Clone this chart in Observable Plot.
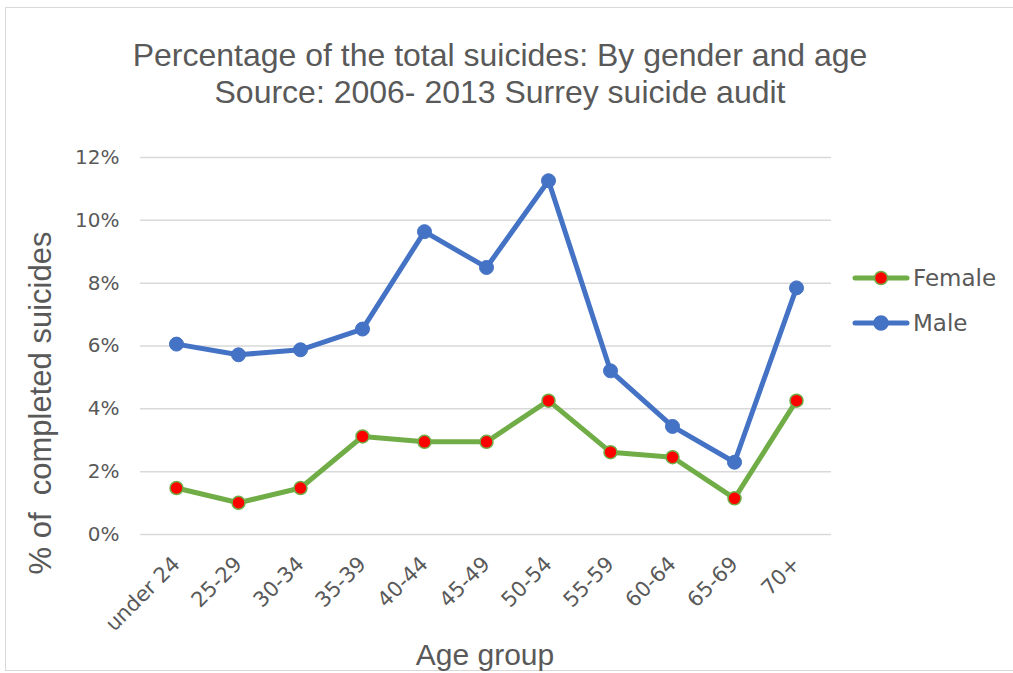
<!DOCTYPE html>
<html>
<head>
<meta charset="utf-8">
<script src="https://cdn.jsdelivr.net/npm/d3@7"></script>
<script src="https://cdn.jsdelivr.net/npm/@observablehq/plot@0.6"></script>
<style>
  html, body { margin: 0; padding: 0; background: #fff; }
  #wrap { position: relative; width: 1013px; height: 673px; overflow: hidden; background: #fff; }
  #frame { position: absolute; left: 5px; top: 7px; width: 1020px; height: 664px; border-left: 1.5px solid #d9d9d9; border-top: 1.5px solid #d9d9d9; border-bottom: 1.5px solid #d9d9d9; box-sizing: border-box; }
  .title { position: absolute; left: 0; width: 1000px; text-align: center; font-family: "Liberation Sans", Arial, sans-serif; font-size: 32px; line-height: 36px; color: #595959; white-space: pre; }
  .axlab { position: absolute; font-family: "Liberation Sans", Arial, sans-serif; font-size: 30px; color: #595959; white-space: pre; }
  #chart { position: absolute; left: 0; top: 0; }
  .leg { position: absolute; left: 852px; display: flex; align-items: center; font-family: "DejaVu Sans", sans-serif; font-size: 23px; color: #595959; }
</style>
</head>
<body>
<div id="wrap">
  <div id="frame"></div>
  <div id="chart"></div>
  <div class="title" style="top:37px">Percentage of the total suicides: By gender and age</div>
  <div class="title" style="top:74px">Source: 2006- 2013 Surrey suicide audit</div>
  <div class="axlab" style="left:41px; top:403px; font-size:31px; transform: translate(-50%,-50%) rotate(-90deg);">% of  completed suicides</div>
  <div class="axlab" style="left:485px; top:655px; transform: translate(-50%,-50%);">Age group</div>
  <div id="legend"></div>
</div>
<script>
const ageGroups = ["under 24","25-29","30-34","35-39","40-44","45-49","50-54","55-59","60-64","65-69","70+"];
const femalePct = [1.48, 1.01, 1.48, 3.12, 2.95, 2.95, 4.26, 2.62, 2.46, 1.15, 4.26];
const malePct   = [6.06, 5.72, 5.88, 6.54, 9.64, 8.50, 11.26, 5.21, 3.44, 2.30, 7.85];
const yTicks = [0, 2, 4, 6, 8, 10, 12];
const seriesNames = ["Female", "Male"];

const colors = { Female: "#70AD47", Male: "#4472C4" };
const female = ageGroups.map((a, i) => ({ age: a, value: femalePct[i], series: "Female" }));
const male = ageGroups.map((a, i) => ({ age: a, value: malePct[i], series: "Male" }));

const chart = Plot.plot({
  width: 1013,
  height: 673,
  marginLeft: 140,
  marginRight: 182,
  marginTop: 157,
  marginBottom: 139,
  style: { background: "transparent", fontFamily: "DejaVu Sans, sans-serif", color: "#595959" },
  x: { type: "point", domain: ageGroups, padding: 0.5, align: 0.5 },
  y: { domain: [0, 12] },
  marks: [
    Plot.gridY(yTicks, { stroke: "#d9d9d9", strokeOpacity: 1, strokeWidth: 1.5 }),
    Plot.axisY(yTicks, { tickSize: 0, tickPadding: 21, fontSize: 20, fill: "#595959", tickFormat: d => d + "%", label: null }),
    Plot.axisX({ tickSize: 0, tickPadding: 26, tickRotate: -45, fontSize: 21, fill: "#595959", label: null }),
    Plot.line(female, { x: "age", y: "value", stroke: colors.Female, strokeWidth: 5, strokeLinejoin: "round", strokeLinecap: "round" }),
    Plot.line(male, { x: "age", y: "value", stroke: colors.Male, strokeWidth: 5, strokeLinejoin: "round", strokeLinecap: "round" }),
    Plot.dot(female, { x: "age", y: "value", r: 6.5, fill: "#FF0000", stroke: colors.Female, strokeWidth: 1.5 }),
    Plot.dot(male, { x: "age", y: "value", r: 7, fill: colors.Male, stroke: colors.Male, strokeWidth: 1 })
  ]
});
document.getElementById("chart").appendChild(chart);

// legend
const legend = document.getElementById("legend");
seriesNames.forEach((name, i) => {
  const div = document.createElement("div");
  div.className = "leg";
  div.style.top = (278 + i * 45 - 14) + "px";
  const fill = name === "Female" ? "#FF0000" : colors[name];
  div.innerHTML = `<svg width="58" height="28"><line x1="3" y1="14" x2="55" y2="14" stroke="${colors[name]}" stroke-width="5" stroke-linecap="round"/><circle cx="29" cy="14" r="${name === "Female" ? 6.5 : 7}" fill="${fill}" stroke="${colors[name]}" stroke-width="1.5"/></svg><span style="margin-left:3px">${name}</span>`;
  legend.appendChild(div);
});
</script>
</body>
</html>
